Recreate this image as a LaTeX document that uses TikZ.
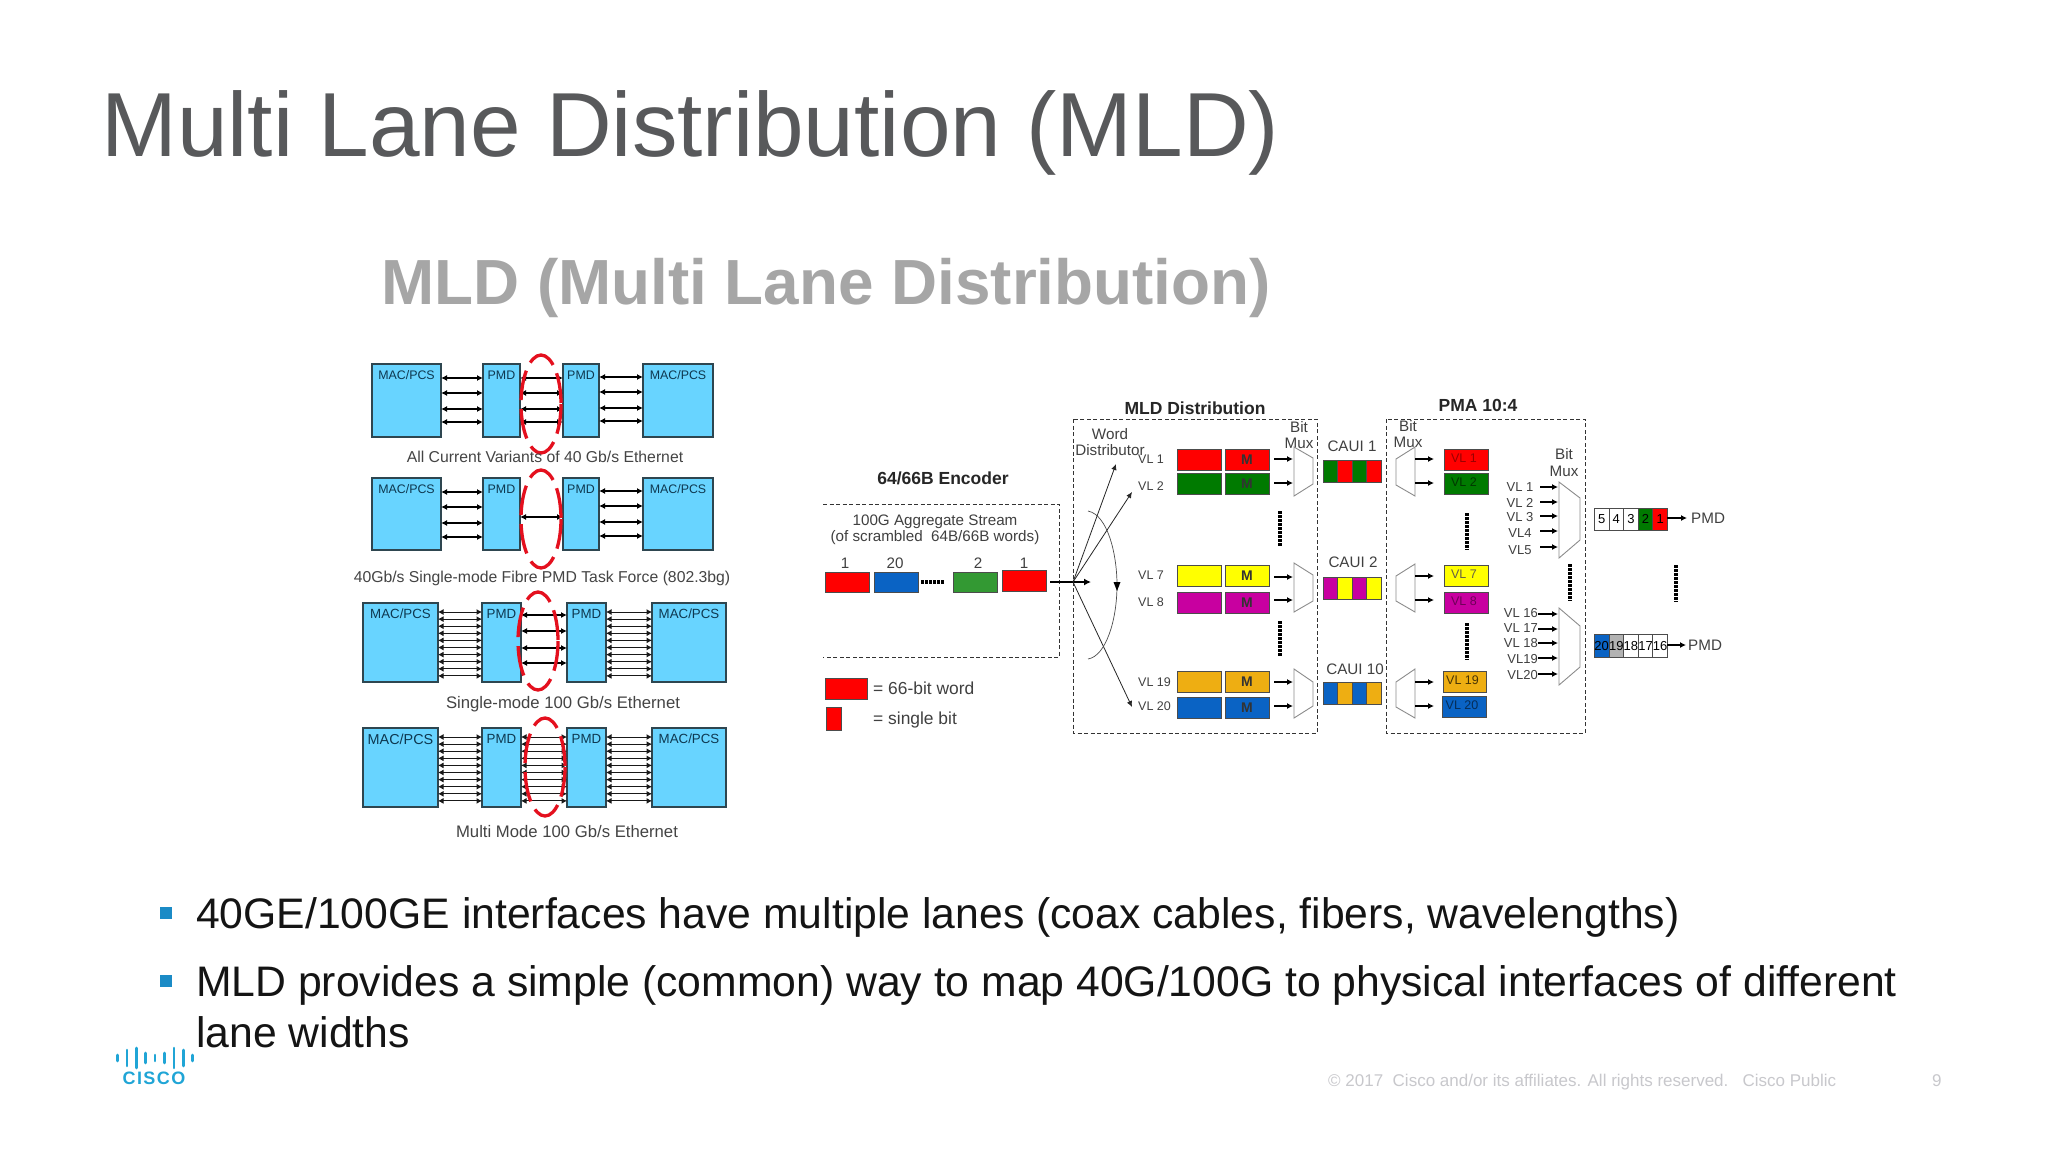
\documentclass[tikz,border=0pt]{standalone}
\usepackage{fontspec}
\setmainfont{Liberation Sans}
\usetikzlibrary{arrows.meta}
\definecolor{maccol}{HTML}{68D4FF}
\definecolor{macborder}{HTML}{2E4650}
\definecolor{maclabel}{HTML}{0E3850}
\definecolor{titlegrey}{HTML}{58595B}
\definecolor{subgrey}{HTML}{A6A6A6}
\definecolor{capgrey}{HTML}{444444}
\definecolor{redmark}{HTML}{E4101E}
\definecolor{vred}{HTML}{FF0000}
\definecolor{vgreen}{HTML}{007A00}
\definecolor{vgreenb}{HTML}{339933}
\definecolor{vyellow}{HTML}{FFFF00}
\definecolor{vmag}{HTML}{C800A0}
\definecolor{vorange}{HTML}{EEAE12}
\definecolor{vblue}{HTML}{0A63C4}
\definecolor{bulblue}{HTML}{1B8BC6}
\definecolor{ciscoblue}{HTML}{20A5D6}
\definecolor{footgrey}{HTML}{C8C8CC}
\newcommand{\fs}[1]{\fontsize{#1}{#1}\selectfont}
\tikzset{
 x=1pt,y=-1pt,
 macbox/.style={draw=macborder,line width=1.6pt,fill=maccol},
 lbl/.style={inner sep=0pt,text=maclabel,anchor=center},
 capt/.style={inner sep=0pt,text=capgrey,font=\fs{15.75}},
 captb/.style={inner sep=0pt,text=capgrey,font=\fs{16.7}},
 lane/.style={black,line width=1.2pt,{Latex[length=6pt,width=6pt]}-{Latex[length=6pt,width=6pt]}},
 lanethin/.style={black!90,line width=1pt,{Latex[length=5.5pt,width=6pt]}-{Latex[length=5.5pt,width=6pt]}},
 redell/.style={draw=redmark,line width=3.3pt,dash pattern=on 30pt off 9pt},
 dbox/.style={draw=black!80,line width=0.9pt,dash pattern=on 4pt off 2.5pt},
 wbox/.style={draw=black!70,line width=0.8pt},
 arw/.style={black,line width=1.3pt,-{Latex[length=6pt,width=6pt]}},
 trap/.style={draw=black!45,line width=0.9pt,fill=white},
 dots/.style={black,line width=3.5pt,dash pattern=on 2.5pt off 1.5pt},
 hd/.style={inner sep=0pt,font=\fs{17.5}\bfseries,text=black!85},
 sm/.style={inner sep=0pt,text=black!75,font=\fs{15.2}},
 vls/.style={inner sep=0pt,text=black!75,font=\fs{12.5}},
 vlr/.style={inner sep=0pt,text=black!75,font=\fs{13}},
 leg/.style={inner sep=0pt,text=black!75,font=\fs{17.4},anchor=west},
 cell/.style={wbox,minimum width=14.6pt,inner sep=0pt,font=\fs{13},anchor=north west},
 bul/.style={inner sep=0pt,anchor=base west,text=black!92,font=\fs{42.7}},
 bsq/.style={fill=bulblue,draw=none},
}
\begin{document}
\begin{tikzpicture}
\useasboundingbox (0,0) rectangle (2048,1152);
\fill[white] (0,0) rectangle (2048,1152);
% titles
\node[anchor=base west,inner sep=0pt,text=titlegrey,font=\fs{91}] (title) at (101,156) {Multi Lane Distribution (MLD)};
\node[anchor=base west,inner sep=0pt,text=subgrey,font=\fs{63.8}\bfseries] (subtitle) at (381,304) {MLD (Multi Lane Distribution)};
% ---- left panel
\foreach \ya/\yb/\la/\lb/\pa/\pb/\qa/\qb/\ra/\rb/\id/\fa/\fb in {
 364/437/372/441/483/520/563/599/643/713/a/12.4/12.4,
 478/550/372/441/483/520/563/599/643/713/b/12.4/12.4,
 603/682/363/438/482/521/567/606/652/726/c/13.3/13.3,
 728/807/363/438/482/521/567/606/652/726/d/14.4/13.3}{
 \path[macbox] (\la,\ya) rectangle (\lb,\yb);
 \path[macbox] (\pa,\ya) rectangle (\pb,\yb);
 \path[macbox] (\qa,\ya) rectangle (\qb,\yb);
 \path[macbox] (\ra,\ya) rectangle (\rb,\yb);
 \node[lbl,font=\fs{\fa}] (mac\id l) at ({(\la+\lb)/2},\ya+11) {MAC/PCS};
 \node[lbl,font=\fs{\fb}] (pmd\id l) at ({(\pa+\pb)/2},\ya+11) {PMD};
 \node[lbl,font=\fs{\fb}] (pmd\id r) at ({(\qa+\qb)/2},\ya+11) {PMD};
 \node[lbl,font=\fs{\fb}] (mac\id r) at ({(\ra+\rb)/2},\ya+11) {MAC/PCS};
}
% 4-lane rows
\foreach \y in {378,393,409,422}{
 \draw[lane] (441,\y) -- (483,\y);
 \draw[lane] (520,\y) -- (563,\y);
 \draw[lane] (599,\y-1) -- (643,\y-1);
}
\foreach \y in {492,507,523,537}{
 \draw[lane] (441,\y) -- (483,\y);
 \draw[lane] (599,\y-1) -- (643,\y-1);
}
\draw[lane] (520,517) -- (563,517);
% 10-lane rows
\foreach \i in {0,...,9}{
 \pgfmathsetmacro{\yy}{612+\i*7.1}
 \draw[lanethin] (438,\yy) -- (482,\yy);
 \draw[lanethin] (606,\yy) -- (652,\yy);
 \pgfmathsetmacro{\yz}{737+\i*7.1}
 \draw[lanethin] (438,\yz) -- (482,\yz);
 \draw[lanethin] (521,\yz) -- (567,\yz);
 \draw[lanethin] (606,\yz) -- (652,\yz);
}
\foreach \y in {615,631,648,663}{ \draw[lane] (521,\y) -- (567,\y); }
% red ellipses
\draw[redell] (541,404) ellipse (20 and 49);
\draw[redell] (541,519) ellipse (20 and 49);
\draw[redell] (538,641) ellipse (20 and 49);
\draw[redell] (545,767) ellipse (20 and 49);
% captions
\node[capt] (cap1) at (545,457) {All Current Variants of 40 Gb/s Ethernet};
\node[capt] (cap2) at (542,578) {40Gb/s Single-mode Fibre PMD Task Force (802.3bg)};
\node[captb] (cap3) at (563,704) {Single-mode 100 Gb/s Ethernet};
\node[captb] (cap4) at (567,832) {Multi Mode 100 Gb/s Ethernet};
% ---- encoder
\node[hd] (enc) at (943,478) {64/66B Encoder};
\draw[dbox] (823,504) -- (1059,504) -- (1059,657) -- (823,657);
\node[sm] (agg1) at (935,522) {100G Aggregate Stream};
\node[sm] (agg2) at (935,538) {(of scrambled\ \ 64B/66B words)};
\foreach \t/\x in {1/845,20/895,2/978,1/1024}{ \node[sm] at (\x,563) {\t}; }
\path[wbox,fill=vred] (825,572) rectangle (869,592);
\path[wbox,fill=vblue] (874,572) rectangle (918,592);
\path[wbox,fill=vgreenb] (953,572) rectangle (997,592);
\path[wbox,fill=vred] (1002,570) rectangle (1046,591);
\draw[dots] (921,582) -- (945,582);
\path[wbox,fill=vred] (825,678) rectangle (867,699);
\path[wbox,fill=vred] (826,707) rectangle (841,730);
\node[leg] (leg1) at (873,688) {= 66-bit word};
\node[leg] (leg2) at (873,720) {= single bit};
% ---- MLD distribution
\node[hd] (mld) at (1195,408) {MLD Distribution};
\draw[dbox] (1073,419) rectangle (1317,733);
\node[sm] (wd1) at (1110,434) {Word};
\node[sm] (wd2) at (1110,450) {Distributor};
\node[sm] (bm1) at (1299,427) {Bit};
\node[sm] (bm2) at (1299,443) {Mux};
\coordinate (fan) at (1073,582);
\draw[black,line width=1.6pt,-{Latex[length=7pt,width=7pt]}] (1050,582) -- (1091,582);
\draw[black!85,line width=.8pt,-{Latex[length=6pt,width=5.5pt]}] (fan) -- (1116,464);
\draw[black!85,line width=.8pt,-{Latex[length=6pt,width=5.5pt]}] (fan) -- (1132,492);
\draw[black!85,line width=.8pt,-{Latex[length=6pt,width=5.5pt]}] (fan) -- (1132,707);
\draw[black!70,line width=.7pt] (1088,511) .. controls (1108,515) and (1117,555) .. (1117,585) .. controls (1117,620) and (1106,656) .. (1088,659);
\fill[black] (1113.5,582) -- (1120.5,582) -- (1117,591) -- cycle;
% VL rows
\foreach \t/\ya/\yb/\ly/\c in {VL 1/449/470/459/vred,VL 2/473/494/486/vgreen,VL 7/565/586/575/vyellow,VL 8/592/613/602/vmag,VL 19/671/692/682/vorange,VL 20/697/718/706/vblue}{
 \node[vls,anchor=west] at (1138,\ly) {\t};
 \path[wbox,fill=\c] (1177,\ya) rectangle (1221,\yb);
 \path[wbox,fill=\c] (1225,\ya) rectangle (1269,\yb);
 \node[inner sep=0pt,font=\fs{14}\bfseries,text=black!80] at (1247,{(\ya+\yb)/2}) {M};
}
\foreach \y in {459,483,577,600,682,706}{ \draw[arw] (1274,\y) -- (1293,\y); }
\draw[trap] (1294,447) -- (1313,458) -- (1313,484) -- (1294,496) -- cycle;
\draw[trap] (1294,563) -- (1313,575) -- (1313,601) -- (1294,612) -- cycle;
\draw[trap] (1294,669) -- (1313,682) -- (1313,706) -- (1294,718) -- cycle;
\draw[dots] (1280,511) -- (1280,547);
\draw[dots] (1280,621) -- (1280,657);
% CAUI
\node[sm] (c1) at (1352,446) {CAUI 1};
\node[sm] (c2) at (1353,562) {CAUI 2};
\node[sm] (c3) at (1355,669) {CAUI 10};
\foreach \y/\ca/\cb in {460/vgreen/vred,577/vmag/vyellow,682/vblue/vorange}{
 \foreach \i in {0,2}{
  \path[wbox,fill=\ca] ({1323+\i*14.5},\y) rectangle ({1323+(\i+1)*14.5},\y+22);
  \path[wbox,fill=\cb] ({1323+(\i+1)*14.5},\y) rectangle ({1323+(\i+2)*14.5},\y+22);
 }
}
% ---- PMA
\node[hd] (pma) at (1478,405) {PMA 10:4};
\draw[dbox] (1386,419) rectangle (1585,733);
\node[sm] (bm3) at (1408,426) {Bit};
\node[sm] (bm4) at (1408,442) {Mux};
\draw[trap] (1415,447) -- (1396,459) -- (1396,485) -- (1415,496) -- cycle;
\draw[trap] (1415,564) -- (1396,576) -- (1396,601) -- (1415,612) -- cycle;
\draw[trap] (1415,669) -- (1396,682) -- (1396,707) -- (1415,718) -- cycle;
\foreach \y in {459,483,576,600,682,706}{ \draw[arw] (1415,\y) -- (1434,\y); }
\foreach \t/\xa/\xb/\ya/\yb/\c/\tc in {VL 1/1444/1488/449/470/vred/{red!60!black},VL 2/1444/1488/473/494/vgreen/{green!22!black},VL 7/1444/1488/565/586/vyellow/{black!70!yellow},VL 8/1444/1488/592/613/vmag/{vmag!55!black},VL 19/1443/1486/671/692/vorange/{black!70!vorange},VL 20/1442/1486/696/717/vblue/{vblue!45!black}}{
 \path[wbox,fill=\c] (\xa,\ya) rectangle (\xb,\yb);
 \node[inner sep=0pt,font=\fs{12.5},text=\tc] at ({(\xa+\xb)/2-2},{(\ya+\yb)/2-1}) {\t};
}
\draw[dots] (1467,513) -- (1467,550);
\draw[dots] (1467,623) -- (1467,660);
\node[sm] (bm5) at (1564,454) {Bit};
\node[sm] (bm6) at (1564,471) {Mux};
\foreach \t/\ly/\ay in {VL 1/487/487,VL 2/503/502,VL 3/517/516,VL4/533/531,VL5/550/547}{
 \node[vlr] at (1520,\ly) {\t};
 \draw[arw] (1540,\ay) -- (1558,\ay);
}
\foreach \t/\ly/\ay in {VL 16/613/614,VL 17/628/629,VL 18/643/643,VL19/659/658,VL20/675/674}{
 \node[vlr,anchor=east] at (1538,\ly) {\t};
 \draw[arw] (1538,\ay) -- (1558,\ay);
}
\draw[trap] (1559,482) -- (1580,498) -- (1580,540) -- (1559,558) -- cycle;
\draw[trap] (1559,608) -- (1580,626) -- (1580,667) -- (1559,685) -- cycle;
\draw[dots] (1570,564) -- (1570,601);
\draw[dots] (1676,565) -- (1676,602);
% PMD strips
\foreach \i/\t/\c in {0/5/white,1/4/white,2/3/white,3/2/vgreen,4/1/vred}{
 \node[cell,fill=\c,minimum height=22pt] at ({1594+\i*14.6},508) {\t};
}
\foreach \i/\t/\c in {0/20/vblue,1/19/black!30,2/18/white,3/17/white,4/16/white}{
 \node[cell,fill=\c,minimum height=23pt] at ({1594+\i*14.6},634) {\t};
}
\coordinate (s1) at (1667,518);
\coordinate (s2) at (1667,645);
\node[sm,anchor=west] (pmd1) at (1691,518) {PMD};
\node[sm,anchor=west] (pmd2) at (1688,645) {PMD};
\draw[arw,shorten >=4pt] (s1) -- (pmd1.west);
\draw[arw,shorten >=2pt] (s2) -- (pmd2.west);
% bullets
\fill[bsq] (160,907) rectangle (172,919);
\fill[bsq] (160,975) rectangle (172,987);
\node[bul] (b1) at (196,928) {40GE/100GE interfaces have multiple lanes (coax cables, fibers, wavelengths)};
\node[bul] (b2) at (196,996) {MLD provides a simple (common) way to map 40G/100G to physical interfaces of different};
\node[bul] (b3) at (196,1047) {lane widths};
% footer
\node[inner sep=0pt,anchor=base west,text=footgrey,font=\fs{17}] (ft) at (1328,1086) {© 2017\ \ Cisco and/or its affiliates. All rights reserved.\ \ \ Cisco Public};
\node[inner sep=0pt,anchor=base west,text=footgrey,font=\fs{17}] (pg) at (1932,1086) {9};
% logo
\foreach \i/\h in {0/3,1/8,2/10,3/5,4/3,5/5,6/10,7/8,8/3}{
 \draw[ciscoblue,line width=2.6pt,line cap=round] ({117.5+\i*9.4},1058-\h) -- ({117.5+\i*9.4},1058+\h);
}
\node[inner sep=0pt,text=ciscoblue,font=\fs{18}\bfseries\addfontfeature{LetterSpace=8}] (cisco) at (154,1078) {CISCO};
\end{tikzpicture}
\end{document}
